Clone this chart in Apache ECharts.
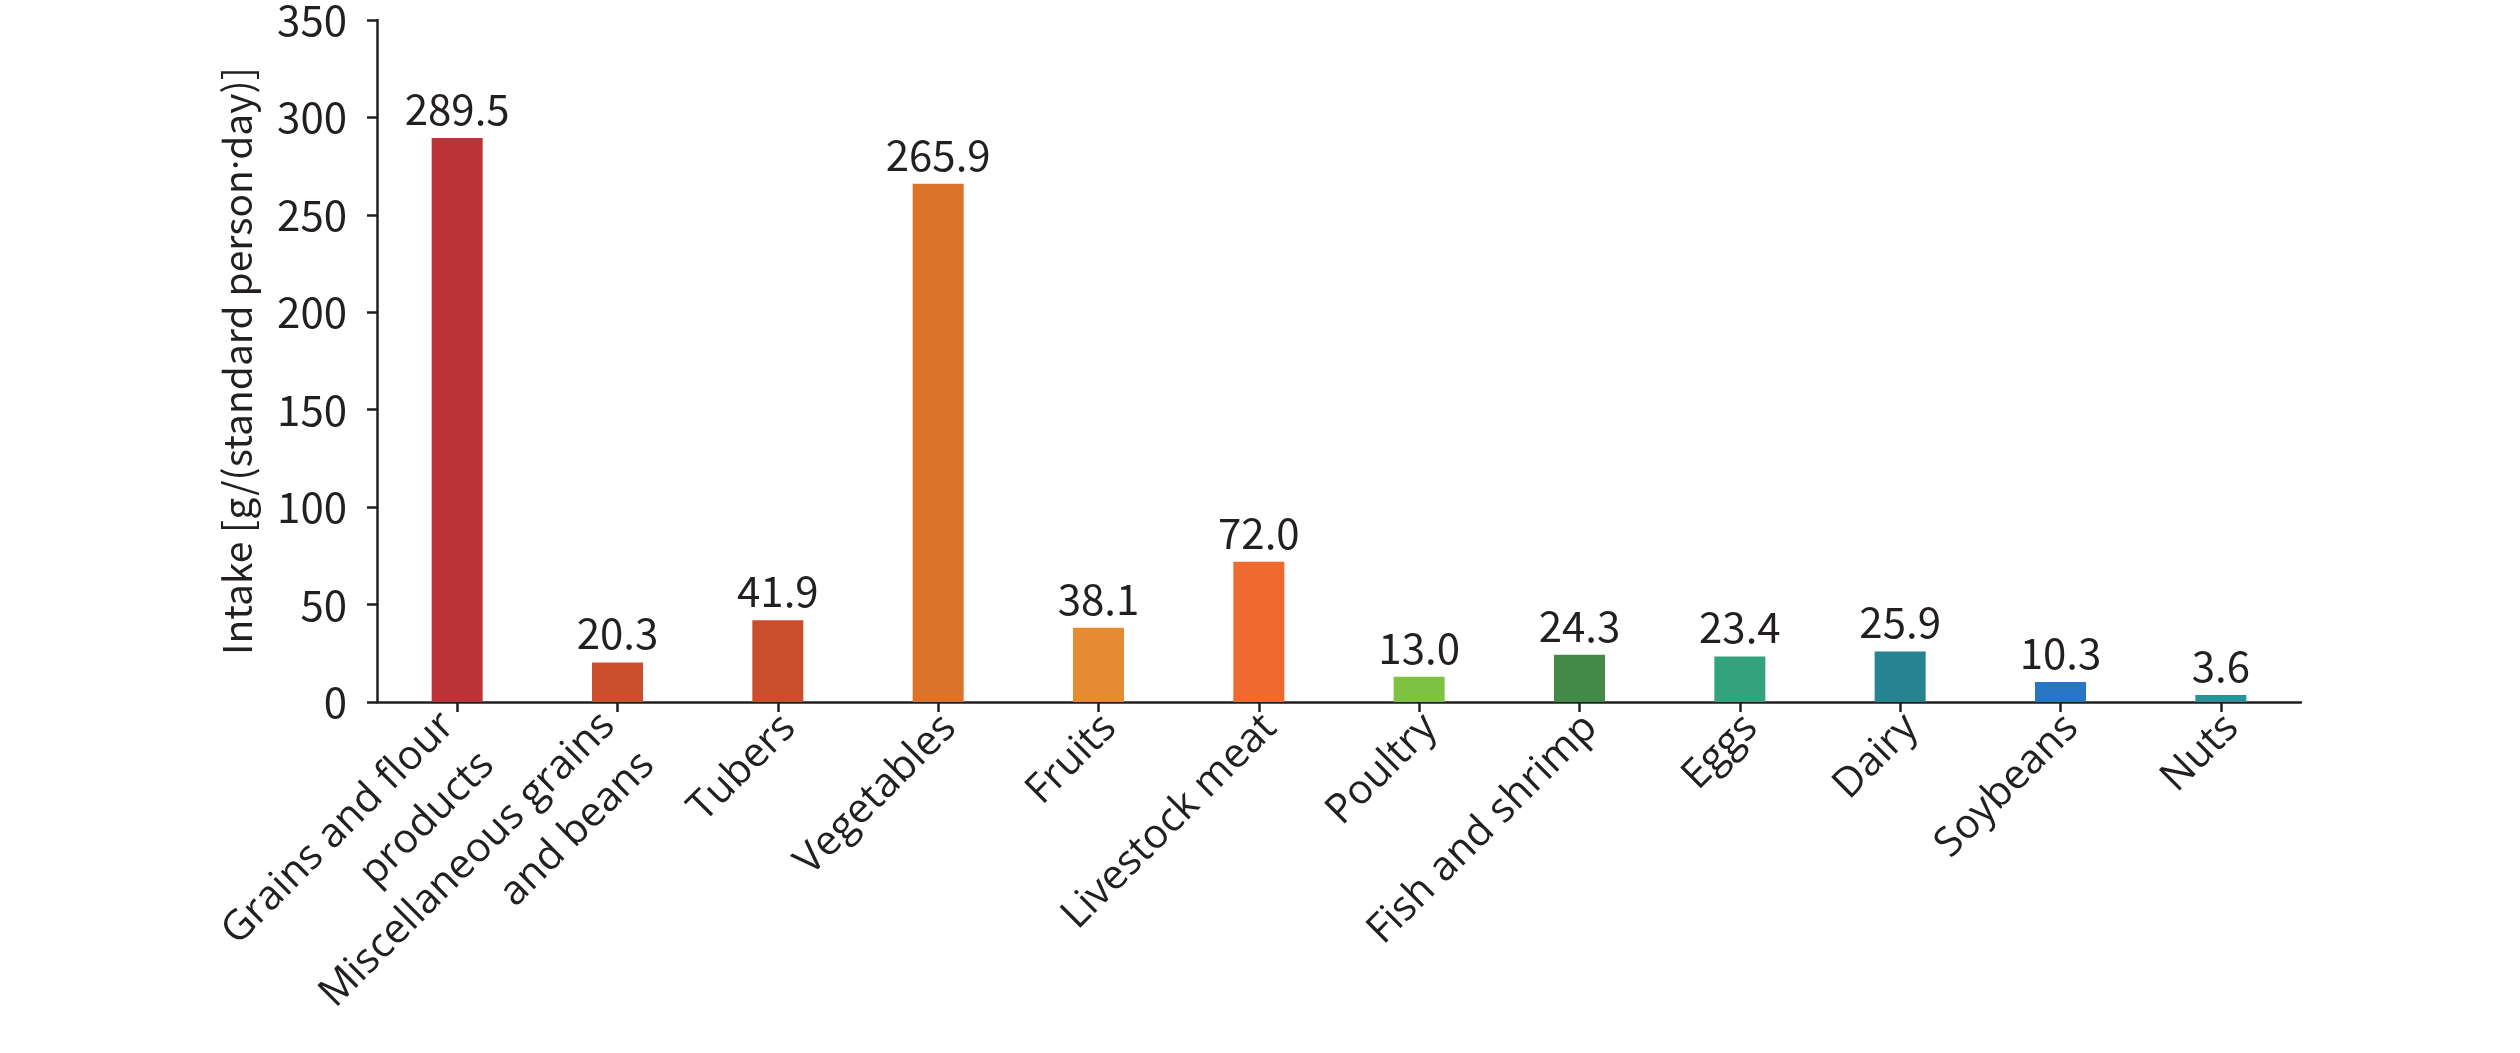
<!DOCTYPE html>
<html>
<head>
<meta charset="utf-8">
<script src="https://cdn.jsdelivr.net/npm/echarts@6/dist/echarts.min.js"></script>
<style>
html,body{margin:0;padding:0;background:#fff;}
#c{width:2520px;height:1053px;}
</style>
</head>
<body>
<div id="c"></div>
<script>
const categories = [
  "Grains and flour\nproducts",
  "Miscellaneous grains\nand beans",
  "Tubers",
  "Vegetables",
  "Fruits",
  "Livestock meat",
  "Poultry",
  "Fish and shrimp",
  "Eggs",
  "Dairy",
  "Soybeans",
  "Nuts"
];
const values = [289.5, 20.3, 41.9, 265.9, 38.1, 72.0, 13.0, 24.3, 23.4, 25.9, 10.3, 3.6];
const colors = ["#BD3438", "#CB4F2C", "#CB4E2C", "#DB742A", "#E58B31", "#EE6A2F",
                "#7DC242", "#438A48", "#33A37D", "#268490", "#2776C3", "#2A9299"];
const yTicks = { min: 0, max: 350, interval: 50 };
const yTitleParts = ["Intake [g/(standard person", "·", "day)]"];

const numFont = "Noto Sans CJK SC";
const catFont = "Open Sans";
const ink = "#231f20";

function catFormatter(v) {
  const lines = v.split('\n');
  if (lines.length === 1) return '{g1| }\n{t|' + v + '}';
  return '{g2| }\n' + lines.map(l => '{t|' + l + '}{p| }').join('\n');
}

const chart = echarts.init(document.getElementById('c'));
chart.setOption({
  backgroundColor: '#ffffff',
  animation: false,
  grid: { left: 377, right: 219, top: 20, bottom: 351, containLabel: false, outerBoundsMode: 'none' },
  xAxis: {
    type: 'category',
    data: categories,
    axisLine: { show: true, lineStyle: { color: ink, width: 2.5 } },
    axisTick: { show: true, alignWithLabel: true, length: 10, lineStyle: { color: ink, width: 2.5 } },
    axisLabel: {
      interval: 0, rotate: 45, margin: 8,
      formatter: catFormatter,
      fontFamily: catFont, fontSize: 41, lineHeight: 56, color: ink,
      rich: {
        t: { fontFamily: catFont, fontSize: 41, lineHeight: 56, color: ink },
        g1: { fontSize: 1, lineHeight: 32, height: 32 },
        g2: { fontSize: 1, lineHeight: 56, height: 56 },
        p: { fontSize: 1, width: 13 }
      }
    }
  },
  yAxis: {
    type: 'value',
    min: yTicks.min, max: yTicks.max, interval: yTicks.interval,
    name: yTitleParts[0] + '{d|' + yTitleParts[1] + '}' + yTitleParts[2],
    nameLocation: 'middle',
    nameGap: 120,
    nameTextStyle: {
      fontFamily: numFont, fontSize: 39, color: ink,
      rich: { d: { fontFamily: 'Open Sans', fontSize: 39, color: ink } }
    },
    axisLine: { show: true, lineStyle: { color: ink, width: 2.5 } },
    axisTick: { show: true, length: 10, lineStyle: { color: ink, width: 2.5 } },
    axisLabel: { margin: 30, fontFamily: numFont, fontSize: 42, color: ink },
    splitLine: { show: false }
  },
  series: [{
    type: 'bar',
    barWidth: 51,
    data: values.map((v, i) => ({ value: v, itemStyle: { color: colors[i] } })),
    label: {
      show: true, position: 'top', distance: 8,
      fontFamily: numFont, fontSize: 42, color: ink,
      formatter: p => p.value.toFixed(1)
    }
  }]
});
</script>
</body>
</html>
